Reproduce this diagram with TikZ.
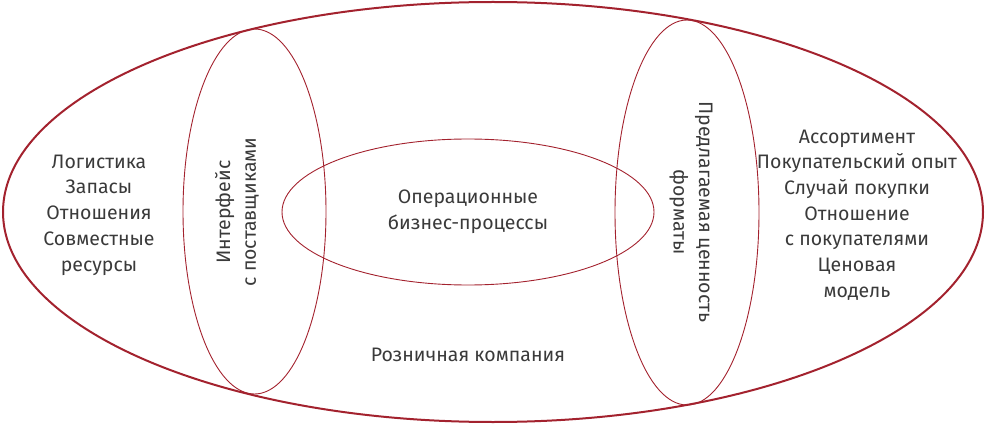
\documentclass[tikz,border=0pt]{standalone}
\usepackage{fontspec}
\setmainfont{Fira Sans}
\definecolor{ered}{HTML}{A3222E}
\definecolor{etext}{HTML}{3A3A3A}
\begin{document}
\begin{tikzpicture}[x=1pt,y=-1pt,
  outerell/.style={draw=ered,line width=2pt},
  innerell/.style={draw=ered,line width=0.9pt},
  lbl/.style={text=etext,align=center,font=\fontsize{19.5}{25.7}\selectfont,inner sep=0pt}]
\useasboundingbox (0,0) rectangle (986,425);
\draw[outerell] (493,212) ellipse [x radius=490, y radius=210];
\draw[innerell] (254.5,211.5) ellipse [x radius=71.5, y radius=182.5];
\draw[innerell] (687,212.5) ellipse [x radius=72, y radius=192.5];
\draw[innerell] (468,212) ellipse [x radius=186, y radius=73];
\node[lbl] (left) at (99,215) {Логистика\\Запасы\\Отношения\\Совместные\\ресурсы};
\node[lbl] (right) at (857,215) {Ассортимент\\Покупательский опыт\\Случай покупки\\Отношение\\с покупателями\\Ценовая\\модель};
\node[lbl] (ops) at (468,212) {Операционные\\бизнес-процессы};
\node[lbl] (co) at (468,355) {Розничная компания};
\node[lbl,rotate=90] (sup) at (237,212) {Интерфейс\\с поставщиками};
\node[lbl,rotate=-90] (val) at (691,212) {Предлагаемая ценность\\форматы};
\end{tikzpicture}
\end{document}
